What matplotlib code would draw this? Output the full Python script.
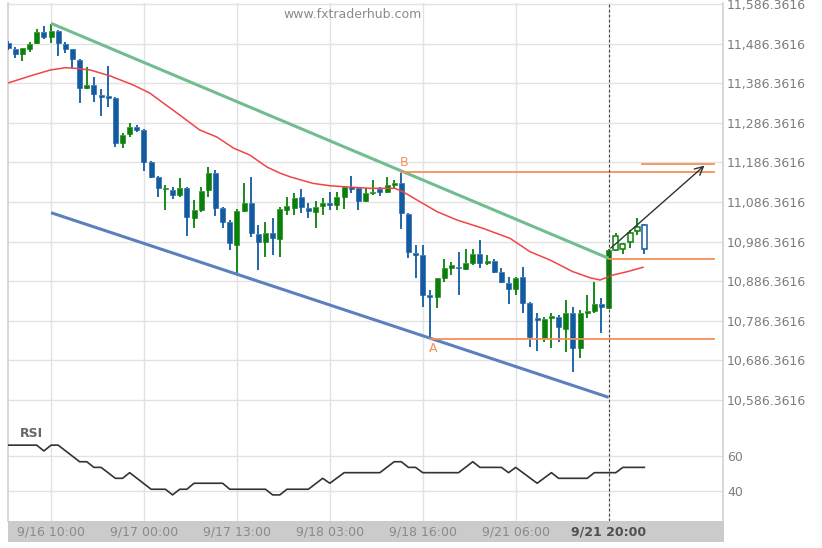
import matplotlib
matplotlib.use('Agg')
import matplotlib.pyplot as plt
from matplotlib.patches import Rectangle

# ---------------- data ----------------
opens = [11488.7, 11472.0, 11459.4, 11472.0, 11487.2, 11516.4, 11503.8, 11519.0, 11485.4, 11472.0,
         11445.0, 11373.5, 11381.8, 11356.6, 11354.1, 11348.3, 11234.6, 11258.1, 11275.8, 11268.2,
         11188.2, 11150.3, 11119.2, 11116.7, 11104.1, 11121.0, 11045.2, 11066.2, 11116.7, 11160.4,
         11070.5, 11036.6, 10977.8, 11063.7, 11084.6, 11005.6, 10986.1, 11007.3, 10992.2, 11066.2,
         11070.5, 11099.8, 11070.5, 11061.9, 11076.3, 11083.1, 11078.8, 11098.2, 11123.5, 11121.0,
         11089.7, 11108.4, 11118.4, 11112.4, 11129.3, 11135.1, 11056.1, 10958.4, 10952.6, 10850.3,
         10847.2, 10893.7, 10919.0, 10921.5, 10916.4, 10933.1, 10955.1, 10931.6, 10938.2, 10910.4,
         10882.6, 10865.9, 10896.2, 10830.6, 10793.4, 10742.2, 10792.7, 10796.0, 10765.4, 10807.3,
         10717.7, 10805.3, 10811.1, 10828.8, 10818.0, 10965.2, 10967.7, 10986.1, 11013.9, 11028.3]
highs = [11493.0, 11478.6, 11475.3, 11491.2, 11522.5, 11530.8, 11535.9, 11520.7, 11491.2, 11472.8,
         11447.5, 11428.1, 11402.8, 11371.7, 11429.8, 11351.5, 11260.6, 11285.9, 11280.8, 11270.7,
         11189.9, 11152.0, 11129.3, 11125.0, 11146.3, 11124.3, 11091.4, 11123.5, 11175.5, 11167.2,
         11073.8, 11040.9, 11068.7, 11133.6, 11148.8, 11028.3, 11036.6, 11046.0, 11073.8, 11099.8,
         11108.4, 11118.4, 11083.9, 11089.7, 11095.7, 11112.4, 11112.4, 11126.8, 11152.0, 11125.0,
         11121.0, 11142.0, 11125.0, 11150.3, 11142.0, 11160.4, 11058.6, 10977.8, 10977.8, 10864.1,
         10894.5, 10941.7, 10935.6, 10960.9, 10967.0, 10967.0, 10990.4, 10952.6, 10941.7, 10919.0,
         10897.7, 10897.7, 10923.0, 10833.9, 10805.3, 10795.2, 10805.3, 10801.0, 10839.2, 10821.3,
         10813.6, 10851.5, 10885.1, 10843.2, 10967.7, 11007.3, 10982.1, 11015.7, 11045.2, 11030.8]
lows = [11470.2, 11449.3, 11443.2, 11465.9, 11485.4, 11498.0, 11487.2, 11455.1, 11461.9, 11424.0,
        11335.6, 11372.5, 11339.7, 11303.6, 11327.1, 11226.1, 11222.8, 11251.3, 11263.9, 11165.4,
        11146.3, 11099.8, 11066.2, 11093.2, 11099.8, 11000.5, 11020.0, 11061.9, 11099.8, 11051.0,
        11020.0, 10965.2, 10906.3, 11061.1, 10997.2, 10914.7, 10948.3, 10952.6, 10948.3, 11053.6,
        11053.6, 11058.6, 11046.0, 11020.0, 11053.6, 11066.2, 11066.2, 11068.0, 11109.9, 11066.2,
        11087.2, 11104.1, 11101.5, 11108.4, 11121.0, 11017.4, 10944.2, 10893.7, 10822.0, 10741.7,
        10818.0, 10885.1, 10902.0, 10851.5, 10914.7, 10927.3, 10919.0, 10927.3, 10906.3, 10881.1,
        10828.8, 10851.5, 10805.3, 10721.0, 10710.9, 10733.6, 10716.9, 10733.6, 10708.4, 10657.9,
        10691.7, 10792.7, 10805.3, 10754.8, 10816.2, 10963.4, 10955.1, 10969.5, 11003.1, 10955.1]
closes = [11474.5, 11459.4, 11474.5, 11485.4, 11516.4, 11503.8, 11519.0, 11487.2, 11472.0, 11446.8,
          11373.5, 11381.8, 11359.1, 11352.3, 11348.3, 11234.6, 11255.6, 11275.0, 11268.2, 11188.2,
          11150.3, 11121.0, 11121.7, 11104.1, 11121.0, 11049.3, 11066.2, 11114.9, 11160.4, 11070.5,
          11036.6, 10982.1, 11063.7, 11084.6, 11007.3, 10986.1, 11007.3, 10994.7, 11068.0, 11076.3,
          11095.7, 11073.8, 11063.7, 11074.5, 11083.1, 11078.8, 11098.2, 11123.5, 11118.4, 11089.7,
          11108.4, 11112.4, 11112.4, 11129.3, 11135.1, 11059.4, 10960.9, 10952.6, 10851.5, 10846.5,
          10893.7, 10919.0, 10927.3, 10919.0, 10931.6, 10955.1, 10931.6, 10938.2, 10910.4, 10885.1,
          10865.9, 10893.7, 10830.6, 10744.7, 10788.4, 10790.2, 10798.5, 10770.7, 10807.3, 10717.7,
          10805.3, 10809.9, 10828.8, 10820.0, 10965.2, 11000.5, 10979.6, 11008.9, 11024.0, 10966.9]

ma_idx = [0.1, 3.5, 5.9, 8.0, 9.4, 11.5, 14.3, 17.5, 19.8, 24.0, 26.8, 29.2, 31.5, 33.8, 36.2, 38.0,
          39.4, 42.6, 45.0, 48.2, 50.6, 54.1, 55.2, 57.2, 60.0, 62.8, 66.4, 70.2, 73.0, 75.8, 79.0,
          81.4, 82.8, 84.6, 86.6, 88.8]
ma_val = [11387.6, 11407.0, 11419.7, 11425.5, 11424.0, 11419.7, 11404.5, 11381.8, 11361.6, 11306.0,
          11268.2, 11250.5, 11222.7, 11205.0, 11174.7, 11159.6, 11150.2, 11133.6, 11127.5, 11123.5,
          11121.0, 11121.0, 11112.4, 11091.4, 11061.9, 11040.9, 11020.0, 10994.7, 10960.9, 10939.9,
          10910.4, 10895.2, 10889.4, 10902.0, 10910.4, 10921.5]

rsi_idx = [0, 4, 5, 6, 7, 10, 11, 12, 13, 15, 16, 17, 20, 22, 23, 24, 25, 26, 30, 31, 36, 37, 38, 39,
           42, 44, 45, 47, 52, 54, 55, 56, 57, 58, 63, 65, 66, 69, 70, 71, 74, 76, 77, 81, 82, 85,
           86, 89]
rsi_val = [66, 66, 62.7, 66, 66, 56.6, 56.6, 53.4, 53.4, 47.2, 47.2, 50.4, 41, 41, 37.8, 41, 41, 44.4,
           44.4, 41, 41, 37.8, 37.8, 41, 41, 47.2, 44.4, 50.4, 50.4, 56.6, 56.6, 53.4, 53.4, 50.4,
           50.4, 56.6, 53.4, 53.4, 50.4, 53.4, 44.4, 50.4, 47.2, 47.2, 50.4, 50.4, 53.4, 53.4]

tick_idx = [6, 19, 32, 45, 58, 71, 84]
tick_labels = ['9/16 10:00', '9/17 00:00', '9/17 13:00', '9/18 03:00', '9/18 16:00',
               '9/21 06:00', '9/21 20:00']
price_ticks = [10586.3616 + 100 * k for k in range(11)]
rsi_ticks = [40, 60]

# channel & levels
upper_line = ([6, 84], [11537.6, 10944.2])
lower_line = ([6, 84], [11059.4, 10593.2])
level_B = 11161.0
level_A = 10741.7
level_break = 10942.4
level_target = 11183.0
point_B = (55, 11161.0)
point_A = (59, 10741.7)
arrow_from = (84, 10965.2)
arrow_to = (97.7, 11183.0)
current_idx = 84

# ---------------- layout ----------------
W, H = 822, 548
fig = plt.figure(figsize=(W / 100, H / 100), dpi=100)
fig.patch.set_facecolor('white')


def rect(x0, y0, x1, y1):
    return [x0 / W, 1 - y1 / H, (x1 - x0) / W, (y1 - y0) / H]


ax = fig.add_axes(rect(8, 3, 723, 412))
rax = fig.add_axes(rect(8, 412, 723, 521))
bax = fig.add_axes(rect(8, 521, 724, 542))

XLIM = (-0.02, 100.0)
GRID = '#e2e2e2'
BORDER = '#d2d2d2'
LABEL = '#7c7c7c'
GREEN = '#0a800a'
BLUE = '#135ba1'

for a in (ax, rax):
    a.set_xlim(*XLIM)
    for s in ('top', 'bottom'):
        a.spines[s].set_visible(False)
    for s in ('left', 'right'):
        a.spines[s].set_color(BORDER)
        a.spines[s].set_linewidth(1.2)
    a.set_xticks(tick_idx)
    a.tick_params(axis='x', length=0, labelbottom=False)
    a.yaxis.tick_right()
    a.tick_params(axis='y', length=0, pad=3, labelsize=9, labelcolor=LABEL)
    a.grid(True, color=GRID, lw=1)
    a.set_axisbelow(True)

ax.set_ylim(10556.1, 11588.9)
ax.set_yticks(price_ticks)
ax.set_yticklabels([f'{v:,.4f}' for v in price_ticks])

rax.set_ylim(23, 84.8)
rax.set_yticks(rsi_ticks)
rax.set_yticklabels([str(v) for v in rsi_ticks])

# ---------------- candles ----------------
bw = 0.7
for i, (o, h, l, c) in enumerate(zip(opens, highs, lows, closes)):
    col = GREEN if c >= o else BLUE
    hollow = i > current_idx
    lo_b, hi_b = min(o, c), max(o, c)
    ax.plot([i, i], [l, lo_b], color=col, lw=1.3, solid_capstyle='butt', zorder=3)
    ax.plot([i, i], [hi_b, h], color=col, lw=1.3, solid_capstyle='butt', zorder=3)
    if hollow:
        ax.add_patch(Rectangle((i - bw / 2, lo_b), bw, max(hi_b - lo_b, 1.5),
                               facecolor='white', edgecolor=col, lw=1.1, zorder=4))
    else:
        ax.add_patch(Rectangle((i - bw / 2, lo_b), bw, max(hi_b - lo_b, 2.5),
                               facecolor=col, edgecolor=col, lw=0.4, zorder=4))

# moving average
ax.plot(ma_idx, ma_val, color='#f04545', lw=1.1, zorder=5)

# channel lines
ax.plot(*upper_line, color='#72bd90', lw=2.2, zorder=6, solid_capstyle='butt')
ax.plot(*lower_line, color='#5b80c0', lw=2.2, zorder=6, solid_capstyle='butt')

# levels
ORANGE = '#f5915a'
right_end = 98.7
ax.plot([point_B[0], right_end], [level_B, level_B], color=ORANGE, lw=1.3, zorder=6)
ax.plot([point_A[0], right_end], [level_A, level_A], color=ORANGE, lw=1.3, zorder=6)
ax.plot([current_idx, right_end], [level_break, level_break], color=ORANGE, lw=1.3, zorder=6)
ax.plot([arrow_to[0] - 9, right_end], [level_target, level_target], color=ORANGE, lw=1.3, zorder=6)
ax.text(point_B[0] + 0.4, point_B[1] + 8, 'B', color=ORANGE, fontsize=9, ha='center', va='bottom', zorder=7)
ax.text(point_A[0] + 0.5, point_A[1] - 8, 'A', color=ORANGE, fontsize=9, ha='center', va='top', zorder=7)

# arrow
ax.annotate('', xy=arrow_to, xytext=arrow_from,
            arrowprops=dict(arrowstyle='->', color='#333333', lw=1.0, mutation_scale=15),
            annotation_clip=False, zorder=8)

# current vertical dashed line
for a in (ax, rax):
    a.axvline(current_idx, color='#444444', lw=0.8, ls=(0, (2.5, 2)), zorder=7)

# watermark
ax.text(0.482, 0.972, 'www.fxtraderhub.com', transform=ax.transAxes, color='#8a8a8a',
        fontsize=9, ha='center', va='center')

# RSI
rax.plot(rsi_idx, rsi_val, color='#333333', lw=1.2, zorder=5)
rax.text(0.017, 0.8, 'RSI', transform=rax.transAxes, color='#666666', fontsize=9,
         fontweight='bold', ha='left', va='center')

# bottom band
bax.set_facecolor('#cbcbcb')
bax.set_xlim(XLIM[0], XLIM[1] + 0.14)
bax.set_ylim(0, 1)
bax.set_xticks([])
bax.set_yticks([])
for s in bax.spines.values():
    s.set_visible(False)
for t, lab in zip(tick_idx, tick_labels):
    bold = t == current_idx
    bax.text(t, 0.47, lab, ha='center', va='center', fontsize=9,
             color='#505050' if bold else '#8a8a8a', fontweight='bold' if bold else 'normal')

fig.savefig('out.png', dpi=100, facecolor='white')
